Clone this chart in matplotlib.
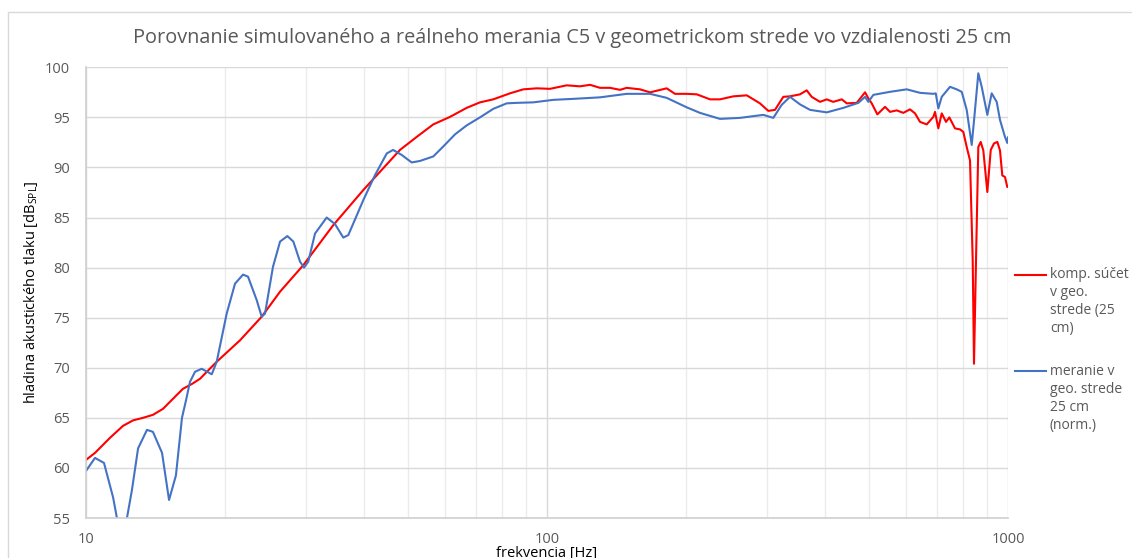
import matplotlib
matplotlib.use("Agg")
import matplotlib.pyplot as plt
from matplotlib.lines import Line2D
from matplotlib.patches import Rectangle
from matplotlib.ticker import LogLocator, NullFormatter, FixedLocator, FixedFormatter

plt.rcParams['font.family'] = ['Open Sans', 'DejaVu Sans']
plt.rcParams['mathtext.fontset'] = 'custom'
plt.rcParams['mathtext.rm'] = 'Open Sans'

# komp. sucet v geo. strede (25 cm)
red_freq = [10.0, 10.46, 11.27, 12.03, 12.65, 13.29, 13.97, 14.69, 15.44, 16.23,
            17.0, 17.67, 19.21, 21.59, 24.05, 26.36, 29.61, 34.40, 39.96, 47.98,
            52.16, 56.67, 61.60, 66.95, 71.55, 76.45, 83.12, 88.83, 95.0, 101.5,
            110.3, 117.9, 124.0, 130.3, 137.0, 144.0, 148.9, 159.1, 167.3, 181.8,
            189.5, 201.0, 211.3, 225.8, 237.3, 253.6, 271.2, 289.7, 302.0, 312.3,
            325.5, 336.6, 353.8, 365.9, 375.1, 391.0, 404.4, 417.8, 436.0, 446.9,
            469.8, 489.7, 497.8, 506.3, 520.7, 541.1, 554.7, 573.6, 592.8, 613.0,
            628.5, 644.4, 666.3, 688.7, 694.5, 706.1, 718.2, 733.8, 746.0, 767.5,
            786.9, 799.9, 813.6, 827.2, 838.4, 843.8, 852.3, 862.2, 872.6, 884.0,
            901.9, 917.4, 932.5, 948.1, 960.8, 971.9, 985.0, 996.5, 1000.0]
red_db = [60.8, 61.5, 63.0, 64.2, 64.75, 65.0, 65.3, 65.9, 66.9, 67.9,
          68.4, 68.9, 70.6, 72.75, 75.1, 77.6, 80.25, 84.25, 87.75, 91.75,
          93.05, 94.3, 95.05, 95.95, 96.5, 96.8, 97.4, 97.8, 97.9, 97.85,
          98.2, 98.1, 98.25, 97.95, 97.95, 97.75, 97.95, 97.8, 97.5, 97.9,
          97.35, 97.35, 97.3, 96.8, 96.8, 97.1, 97.2, 96.4, 95.65, 95.75,
          97.05, 97.1, 97.3, 97.7, 97.05, 96.55, 96.8, 96.55, 96.8, 96.4,
          96.45, 97.5, 96.9, 96.4, 95.3, 96.05, 95.55, 95.7, 95.45, 95.8,
          95.4, 94.55, 94.3, 95.05, 95.55, 93.9, 95.4, 94.55, 95.0, 93.9,
          93.8, 93.55, 92.05, 90.7, 80.7, 70.4, 80.7, 92.05, 92.55, 91.7,
          87.55, 91.75, 92.4, 92.55, 91.7, 89.2, 89.05, 88.05, 88.1]

# meranie v geo. strede 25 cm (norm.)
blue_freq = [10.0, 10.46, 10.94, 11.45, 11.67, 11.91, 12.27, 12.58, 12.97, 13.56,
             13.97, 14.62, 15.14, 15.67, 16.15, 16.48, 16.81, 17.24, 17.82, 18.74,
             19.21, 20.19, 21.05, 21.91, 22.46, 23.46, 24.05, 24.45, 25.45, 26.36,
             27.34, 28.17, 29.12, 29.71, 30.35, 31.39, 33.27, 34.68, 36.15, 37.07,
             39.96, 42.37, 44.92, 46.35, 48.40, 50.87, 53.03, 56.67, 59.58, 63.15,
             66.95, 71.55, 76.45, 81.77, 85.97, 93.39, 103.2, 114.1, 130.3, 148.9,
             167.3, 181.8, 201.0, 214.7, 237.3, 262.2, 294.6, 309.7, 322.9, 336.6,
             353.8, 372.0, 404.4, 439.4, 473.5, 489.7, 497.8, 510.5, 554.7, 602.9,
             644.4, 688.7, 697.1, 706.1, 718.2, 748.6, 773.9, 793.6, 813.6, 834.3,
             848.1, 862.2, 877.0, 901.9, 921.8, 945.1, 960.8, 985.0, 996.5, 1000.0]
blue_db = [59.7, 61.0, 60.5, 57.05, 55.0, 53.0, 55.0, 57.8, 61.95, 63.8,
           63.6, 61.5, 56.8, 59.25, 65.0, 66.75, 68.6, 69.6, 69.9, 69.35,
           70.6, 75.4, 78.4, 79.3, 79.1, 76.75, 75.1, 75.4, 80.1, 82.6,
           83.15, 82.6, 80.6, 80.0, 80.6, 83.4, 85.0, 84.35, 83.0, 83.25,
           86.75, 89.25, 91.4, 91.75, 91.25, 90.5, 90.65, 91.1, 92.1, 93.3,
           94.2, 95.0, 95.85, 96.4, 96.45, 96.5, 96.75, 96.85, 97.0, 97.35,
           97.35, 96.95, 96.0, 95.45, 94.85, 94.95, 95.25, 94.95, 96.25, 97.05,
           96.3, 95.75, 95.5, 95.95, 96.45, 97.05, 96.55, 97.25, 97.55, 97.8,
           97.45, 97.35, 97.4, 95.9, 97.05, 98.05, 97.8, 97.55, 95.75, 92.25,
           95.75, 99.4, 98.05, 95.25, 97.4, 96.55, 94.75, 93.05, 92.45, 93.0]

x_ticks = [10, 100, 1000]
x_labels = ['10', '100', '1000']
y_ticks = [55, 60, 65, 70, 75, 80, 85, 90, 95, 100]

W, H = 1132, 558
fig = plt.figure(figsize=(W / 100, H / 100), dpi=100)
fig.patch.set_facecolor('white')

# chart border (Excel chart area)
fig.add_artist(Rectangle((8 / W, -0.1), 1.2, 1 - 12 / H + 0.1, transform=fig.transFigure,
                         fill=False, edgecolor='#D9D9D9', lw=1.0))

ax = fig.add_axes([86 / W, 1 - 518 / H, (1008 - 86) / W, (518 - 67.3) / H])
ax.plot(red_freq, red_db, color='#FF0000', lw=1.5, solid_joinstyle='round')
ax.plot(blue_freq, blue_db, color='#4472C4', lw=1.5, solid_joinstyle='round')

ax.set_xscale('log')
ax.set_xlim(10, 1000)
ax.set_ylim(55, 100)
ax.xaxis.set_major_locator(FixedLocator(x_ticks))
ax.xaxis.set_major_formatter(FixedFormatter(x_labels))
ax.xaxis.set_minor_locator(LogLocator(base=10, subs=range(2, 10)))
ax.xaxis.set_minor_formatter(NullFormatter())
ax.set_yticks(y_ticks)

ax.grid(which='major', axis='both', color='#D9D9D9', lw=1.0)
ax.grid(which='minor', axis='x', color='#EBEBEB', lw=1.0)
ax.set_axisbelow(True)
for s in ['top', 'right']:
    ax.spines[s].set_visible(False)
for s in ['left', 'bottom']:
    ax.spines[s].set_color('#D0D0D0')
    ax.spines[s].set_linewidth(1.2)
ax.tick_params(which='both', length=0, colors='#595959', labelsize=10.5)
ax.tick_params(axis='x', pad=10)
ax.tick_params(axis='y', pad=11.5)

fig.text(31 / W, 1 - 292 / H, r'hladina akustického tlaku [dB$_{\mathrm{SPL}}$]',
         rotation=90, ha='center', va='center', fontsize=10.5, color='#000000')
fig.text(547 / W, 1 - 546 / H, 'frekvencia [Hz]', ha='center', va='top',
         fontsize=10.5, color='#000000')

fig.text(572 / W, 1 - 38 / H,
         'Porovnanie simulovaného a reálneho merania C5 v geometrickom strede vo vzdialenosti 25 cm',
         ha='center', va='center', fontsize=14.3, color='#595959')

# legend
fig.add_artist(Line2D([1015 / W, 1046 / W], [1 - 275 / H, 1 - 275 / H], color='#FF0000', lw=1.5))
fig.add_artist(Line2D([1015 / W, 1046 / W], [1 - 371 / H, 1 - 371 / H], color='#4472C4', lw=1.5))
fig.text(1050 / W, 1 - 267 / H, 'komp. súčet\nv geo.\nstrede (25\ncm)', ha='left', va='top',
         fontsize=10, color='#595959', linespacing=1.28)
fig.text(1050 / W, 1 - 364 / H, 'meranie v\ngeo. strede\n25 cm\n(norm.)', ha='left', va='top',
         fontsize=10, color='#595959', linespacing=1.28)

fig.savefig('out.png', dpi=100, facecolor='white')
